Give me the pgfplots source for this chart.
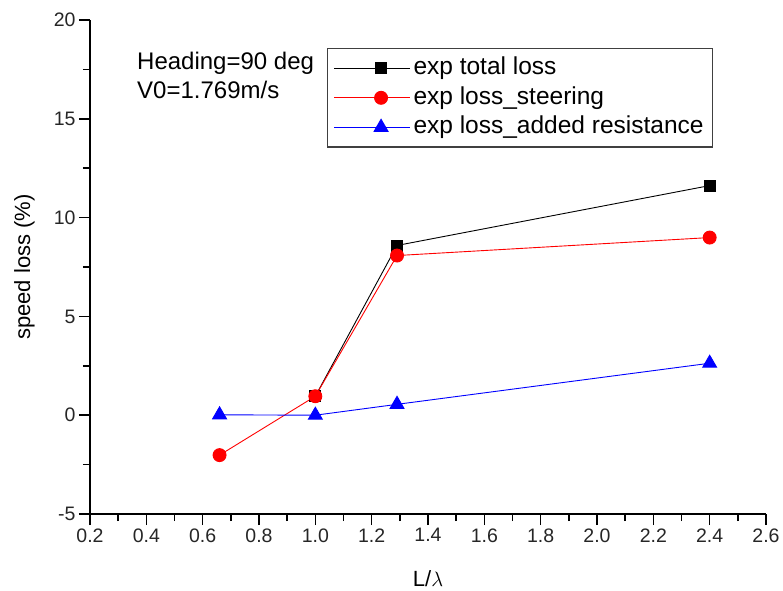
\documentclass[border=0pt]{standalone}
\usepackage{pgfplots}
\pgfplotsset{compat=1.18}
\usepackage{fontspec}
\setmainfont{Liberation Sans}
\begin{document}
\begin{tikzpicture}
\begin{axis}[
  scale only axis,
  width=676pt, height=494pt,
  xmin=0.2, xmax=2.6, ymin=-5, ymax=20,
  axis x line=bottom, axis y line=left,
  axis line style={-, line width=1.8pt},
  xtick={0.2,0.4,...,2.61}, ytick={-5,0,...,20},
  minor x tick num=1, minor y tick num=1,
  tick align=outside,
  major tick length=11pt, minor tick length=7pt,
  every tick/.style={black, line width=1.6pt},
  x tick label style={/pgf/number format/.cd, fixed, fixed zerofill, precision=1},
  /pgf/number format/assume math mode=true,
  tick label style={font=\fontsize{19.5}{23}\selectfont, text=black!85},
  xlabel={L/$\lambda$}, ylabel={speed loss (\%)},
  xlabel style={at={(axis description cs:0.5,-0.1316)}, anchor=center, font=\fontsize{22}{26}\selectfont},
  ylabel style={at={(axis description cs:-0.0969,0.5)}, anchor=center, font=\fontsize{22}{26}\selectfont},
  legend style={at={(0.3506,0.9434)}, anchor=north west, draw=black!75, line width=1.2pt,
    font=\fontsize{24.5}{28}\selectfont, row sep=0pt, inner xsep=6pt, inner ysep=5pt,
    nodes={inner sep=3pt, text height=18pt, text depth=5.5pt},
    cells={anchor=west}},
  legend image code/.code={
    \path (0pt,0pt) -- (76pt,0pt);
    \draw[#1, line width=0.8pt] (21pt,0pt) -- (76pt,0pt);
    \draw[#1, mark repeat=2, mark phase=2] plot coordinates {(21pt,0pt) (47pt,0pt) (76pt,0pt)};},
  clip=false,
]
\addplot[black, line width=0.9pt, mark=square*, mark size=5.5pt, mark options={solid}] coordinates {
 (1.0,0.96) (1.29,8.59) (2.4,11.62)};
\addlegendentry{exp total loss}
\addplot[red, line width=0.9pt, mark=*, mark size=6.5pt] coordinates {
 (0.66,-2.02) (1.0,0.96) (1.29,8.08) (2.4,8.99)};
\addlegendentry{exp loss\_steering}
\addplot[blue, line width=0.9pt, mark=triangle*, mark size=8pt] coordinates {
 (0.66,0.02) (1.0,0.0) (1.29,0.55) (2.4,2.63)};
\addlegendentry{exp loss\_added resistance}
\node[anchor=base west, align=left, font=\fontsize{24}{29}\selectfont, inner sep=0pt]
  at (rel axis cs:0.0695,0.841) {Heading=90 deg\\V0=1.769m/s};
\end{axis}
\pgfresetboundingbox
\path (-90pt,-76pt) rectangle (693pt,514pt);
\end{tikzpicture}
\end{document}
